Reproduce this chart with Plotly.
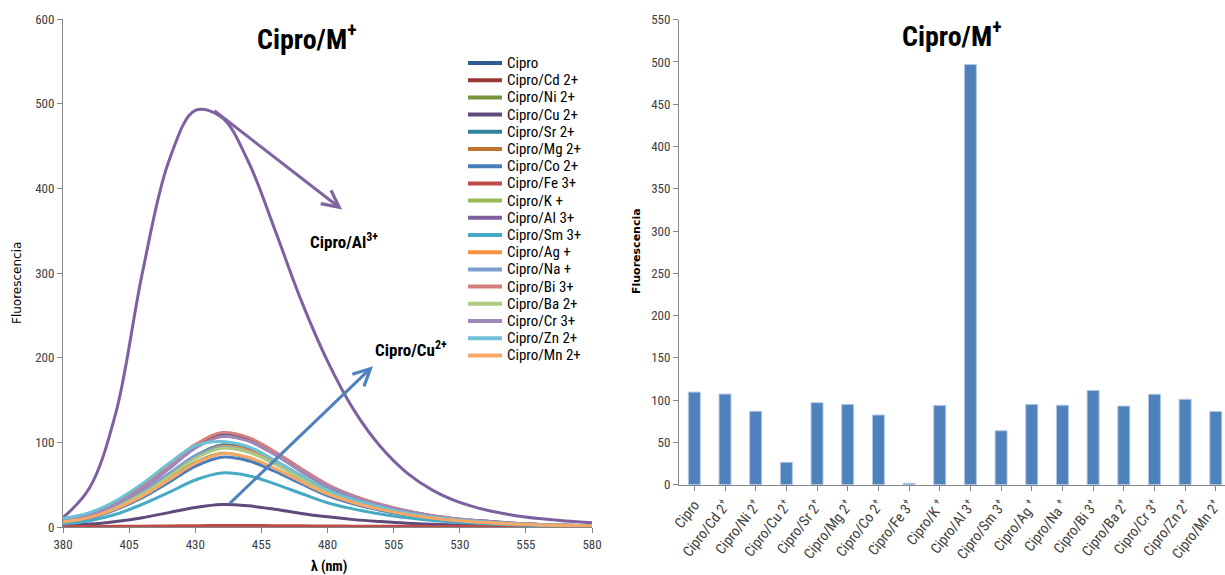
import plotly.graph_objects as go

W, H = 1225, 575

# Emission wavelengths (nm)
wavelength = [380, 390, 400, 410, 420, 430, 440, 450, 460, 470, 480,
              490, 500, 510, 520, 530, 540, 550, 560, 570, 580]

# Fluorescence spectra, one list per complex
cipro    = [8, 14, 27, 46, 70, 95, 109, 104, 88, 68, 49, 36, 26, 19, 13, 9, 7, 4.4, 3.1, 2.2, 1.5]
cipro_cd = [8, 15, 29, 48, 72, 97, 107, 102, 86, 66, 48, 35, 26, 18, 13, 9, 6.4, 4.3, 3, 2.1, 1.5]
cipro_ni = [6, 11, 22, 36, 56, 76, 87, 82, 69, 54, 39, 29, 21, 15, 10, 7.4, 5.2, 3.5, 2.4, 1.7, 1.2]
cipro_cu = [1.9, 3.4, 6.6, 11, 17, 23, 26.5, 25, 21, 16, 12, 8.7, 6.4, 4.5, 3.2, 2.3, 1.6, 1.1, 0.7, 0.5, 0.4]
cipro_sr = [7, 12.6, 24, 41, 62, 84, 97, 92, 78, 60, 44, 32, 23, 16.5, 11.6, 8.2, 5.8, 3.9, 2.7, 1.9, 1.4]
cipro_mg = [6.7, 12.4, 24, 40, 61, 83, 95, 90, 76, 59, 43, 31, 23, 16, 11.4, 8.1, 5.7, 3.8, 2.7, 1.9, 1.3]
cipro_co = [5.8, 10.7, 20.6, 34.6, 52.7, 71.7, 82.4, 78.3, 65.9, 51.1, 37.1, 27.2, 19.8, 14, 9.9, 7, 4.9, 3.3, 2.3, 1.6, 1.2]
cipro_fe = [0.5, 0.6, 0.8, 1.0, 1.3, 1.6, 1.7, 1.7, 1.6, 1.4, 1.2, 1.0, 0.9, 0.8, 0.7, 0.6, 0.5, 0.5, 0.4, 0.4, 0.4]
cipro_k  = [6.6, 12.2, 23.5, 39.4, 60, 81.6, 93.8, 89.1, 75, 58.2, 42.2, 31, 22.5, 15.9, 11.3, 8, 5.6, 3.8, 2.6, 1.9, 1.3]
cipro_al = [11, 46, 135, 300, 432, 492, 484, 432, 352, 268, 196, 138, 95, 64, 43, 29, 20, 14, 10, 7, 5]
cipro_sm = [3.5, 7.5, 15, 26.8, 40.8, 55.5, 63.8, 60.6, 51, 39.6, 28.7, 21.1, 15.3, 10.8, 7.7, 5.4, 3.8, 2.6, 1.8, 1.3, 0.9]
cipro_ag = [6.5, 12.2, 23.8, 40, 61, 83, 95, 90.5, 76, 59, 43, 31, 23, 16, 11.4, 8.1, 5.7, 3.8, 2.7, 1.9, 1.3]
cipro_na = [8, 14, 26, 43, 63, 84, 94, 89, 75, 58, 42, 31, 22.6, 16, 11.3, 8, 5.6, 3.8, 2.6, 1.9, 1.3]
cipro_bi = [7.8, 14.5, 27.9, 46.8, 71.4, 97, 111.5, 105.9, 89.2, 69.1, 50.2, 36.8, 26.8, 19, 13.4, 9.5, 6.7, 4.5, 3.1, 2.2, 1.6]
cipro_ba = [6.5, 12.1, 23.3, 39, 59.5, 80.9, 93, 88.4, 74.4, 57.7, 41.9, 30.7, 22.3, 15.8, 11.2, 7.9, 5.6, 3.7, 2.6, 1.9, 1.3]
cipro_cr = [7.5, 13.9, 26.8, 44.9, 68.5, 93.1, 107, 101.7, 85.6, 66.3, 48.2, 35.3, 25.7, 18.2, 12.8, 9.1, 6.4, 4.3, 3, 2.1, 1.5]
cipro_zn = [10, 17, 31, 51, 75, 96, 101, 95, 79, 61, 44, 32, 23.5, 16.6, 11.8, 8.4, 5.9, 4, 2.8, 2, 1.4]
cipro_mn = [6, 11.3, 21.7, 36.4, 55.4, 75.3, 86.6, 82.3, 69.3, 53.7, 39, 28.6, 20.8, 14.7, 10.4, 7.4, 5.2, 3.5, 2.4, 1.7, 1.2]

series_names = ["Cipro", "Cipro/Cd 2+", "Cipro/Ni 2+", "Cipro/Cu 2+", "Cipro/Sr 2+",
                "Cipro/Mg 2+", "Cipro/Co 2+", "Cipro/Fe 3+", "Cipro/K +", "Cipro/Al 3+",
                "Cipro/Sm 3+", "Cipro/Ag +", "Cipro/Na +", "Cipro/Bi 3+", "Cipro/Ba 2+",
                "Cipro/Cr 3+", "Cipro/Zn 2+", "Cipro/Mn 2+"]
series_values = [cipro, cipro_cd, cipro_ni, cipro_cu, cipro_sr, cipro_mg, cipro_co,
                 cipro_fe, cipro_k, cipro_al, cipro_sm, cipro_ag, cipro_na, cipro_bi,
                 cipro_ba, cipro_cr, cipro_zn, cipro_mn]
series_colors = ["#2F5B91", "#983734", "#77933C", "#5F4A7B", "#31859C", "#C2742F",
                 "#4A7EBB", "#BE4B48", "#98B954", "#7D60A0", "#46AAC5", "#F69240",
                 "#7C9ED0", "#D47F7D", "#AFCA7F", "#9E89BB", "#70C0D6", "#F9A766"]

# Maximum fluorescence per complex
bar_labels = ["Cipro", "Cipro/Cd 2<sup>+</sup>", "Cipro/Ni 2<sup>+</sup>", "Cipro/Cu 2<sup>+</sup>",
              "Cipro/Sr 2<sup>+</sup>", "Cipro/Mg 2<sup>+</sup>", "Cipro/Co 2<sup>+</sup>",
              "Cipro/Fe 3<sup>+</sup>", "Cipro/K <sup>+</sup>", "Cipro/Al 3<sup>+</sup>",
              "Cipro/Sm 3<sup>+</sup>", "Cipro/Ag <sup>+</sup>", "Cipro/Na <sup>+</sup>",
              "Cipro/Bi 3<sup>+</sup>", "Cipro/Ba 2<sup>+</sup>", "Cipro/Cr 3<sup>+</sup>",
              "Cipro/Zn 2<sup>+</sup>", "Cipro/Mn 2<sup>+</sup>"]
peak_fluorescence = [109.5, 107.2, 86.8, 26.5, 97, 95, 82.4, 1.7, 93.8, 497,
                     63.8, 95, 94, 111.5, 93, 107, 101, 86.6]

FONT = "Liberation Sans Narrow, Roboto Condensed, Arial Narrow, Liberation Sans, sans-serif"
WIDE = "DejaVu Sans, Verdana, sans-serif"
AXIS_GREY = "#868686"
TEXT = "#404040"


def px(x):
    return x / W


def py(y):
    return 1 - y / H


fig = go.Figure()

for name, vals, col in zip(series_names, series_values, series_colors):
    fig.add_trace(go.Scatter(
        x=wavelength, y=vals, name=name, mode="lines",
        line=dict(color=col, width=3, shape="spline", smoothing=1.0),
        xaxis="x", yaxis="y", showlegend=False))

fig.add_trace(go.Bar(
    x=list(range(len(bar_labels))), y=peak_fluorescence,
    marker=dict(color="#4F81BD", line=dict(color="#B3C7E3", width=1)),
    xaxis="x2", yaxis="y2", showlegend=False))

axis_common = dict(showgrid=False, zeroline=False, showline=True, linecolor=AXIS_GREY,
                   linewidth=1, ticks="outside", ticklen=5, tickcolor=AXIS_GREY,
                   automargin=False,
                   tickfont=dict(family=FONT, size=13, color=TEXT))

fig.update_layout(
    width=W, height=H,
    margin=dict(l=0, r=0, t=0, b=0),
    paper_bgcolor="white", plot_bgcolor="white",
    bargap=0.61,
    xaxis=dict(domain=[px(63), px(592)], range=[380, 580], tickmode="array",
               tickvals=[380, 405, 430, 455, 480, 505, 530, 555, 580],
               anchor="y", **axis_common),
    yaxis=dict(domain=[py(527), py(19)], range=[0, 600], dtick=100, anchor="x",
               **axis_common),
    xaxis2=dict(domain=[px(679), 1.0], range=[-0.5, 17.3], tickmode="array",
                tickvals=list(range(len(bar_labels))), ticktext=bar_labels,
                tickangle=-52, tickson="boundaries", anchor="y2",
                ticklabeloverflow="allow", **axis_common),
    yaxis2=dict(domain=[py(484.7), py(19.7)], range=[0, 550], dtick=50, anchor="x2",
                **axis_common),
)
fig.update_xaxes(selector=dict(anchor="y2"), tickfont=dict(family=FONT, size=14.5, color=TEXT))


def label(text, x, y, size, xanchor="center", angle=0, family=FONT):
    return dict(text=text, x=px(x), y=py(y), xref="paper", yref="paper",
                xanchor=xanchor, yanchor="middle", textangle=angle, showarrow=False,
                font=dict(family=family, size=size, color="black"))


annotations = [
    label("<b>Cipro/M<sup>+</sup></b>", 306, 37, 28),
    label("<b>Cipro/M<sup>+</sup></b>", 951, 35, 28),
    label("Fluorescencia", 17, 283, 12, angle=-90, family=WIDE),
    label("<b>Fluorescencia</b>", 636, 251, 11, angle=-90, family=WIDE),
    label("<b>λ (nm)</b>", 329, 566, 14),
    label("<b>Cipro/Al<sup>3+</sup></b>", 308, 241, 17, xanchor="left"),
    label("<b>Cipro/Cu<sup>2+</sup></b>", 373, 349, 17, xanchor="left"),
    # Arrows pointing out the Al3+ and Cu2+ responses
    dict(x=485.5, y=375, ax=436.7, ay=493, xref="x", yref="y", axref="x", ayref="y",
         text="", showarrow=True, arrowhead=5, arrowsize=1.1, arrowwidth=3,
         arrowcolor="#8064A2"),
    dict(x=497.2, y=190, ax=442.4, ay=26, xref="x", yref="y", axref="x", ayref="y",
         text="", showarrow=True, arrowhead=5, arrowsize=1.1, arrowwidth=3,
         arrowcolor="#4F81BD"),
]

# Series key drawn beside the spectra
shapes = []
for i, (name, col) in enumerate(zip(series_names, series_colors)):
    yc = 63 + i * 17.2
    shapes.append(dict(type="line", xref="paper", yref="paper",
                       x0=px(468), x1=px(502), y0=py(yc), y1=py(yc),
                       line=dict(color=col, width=4)))
    annotations.append(label(name, 505, yc, 15, xanchor="left"))

fig.update_layout(annotations=annotations, shapes=shapes)

fig.write_html("out.html")
